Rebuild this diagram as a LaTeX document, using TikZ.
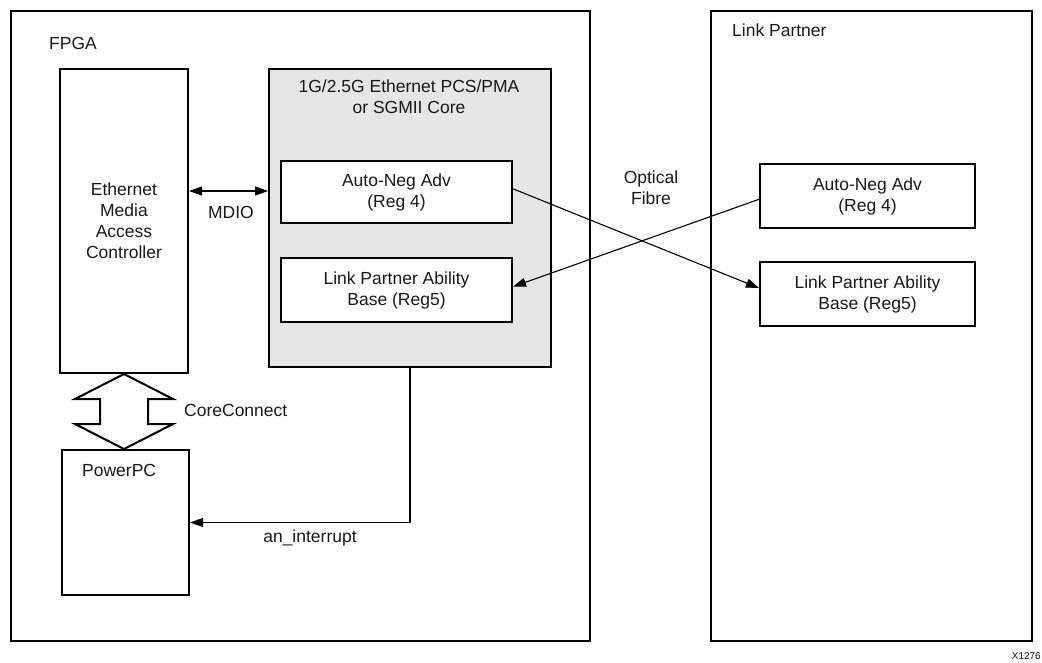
\documentclass[tikz,border=0pt]{standalone}
\usepackage{fontspec}
\setmainfont{Liberation Sans}
\usetikzlibrary{arrows.meta,calc}
\definecolor{coregray}{HTML}{E6E6E6}
\begin{document}
\begin{tikzpicture}[x=1pt,y=-1pt,
  every node/.style={font=\fontsize{17.5}{21}\selectfont, text=black!90},
  box/.style={draw, line width=2pt, rectangle, anchor=north west, align=center, inner sep=0pt},
  txt/.style={inner sep=0pt, align=center},
  thin/.style={line width=1.1pt},
  tip/.style={-{Triangle[length=13pt,width=9pt]}},
  bitip/.style={{Triangle[length=13pt,width=9pt]}-{Triangle[length=13pt,width=9pt]}}
]
\useasboundingbox (0,0) rectangle (1042,662);
% outer boxes
\node[box, minimum width=579, minimum height=630] (fpga) at (10,10) {};
\node[box, minimum width=321, minimum height=630] (lp) at (710,10) {};
\node[txt, anchor=west] (fpgalabel) at (49,43) {FPGA};
\node[txt, anchor=west] (lplabel) at (732,30) {Link Partner};
% MAC
\node[box, minimum width=128, minimum height=304] (mac) at (59,68) {Ethernet\\Media\\Access\\Controller};
% core
\node[box, fill=coregray, minimum width=282, minimum height=298] (core) at (268,68) {};
\node[txt] (coretitle) at (409,97) {1G/2.5G Ethernet PCS/PMA\\or SGMII Core};
\node[box, fill=white, minimum width=231, minimum height=62] (advL) at (280,160) {Auto-Neg Adv\\(Reg 4)};
\node[box, fill=white, minimum width=231, minimum height=64] (lpaL) at (280,257) {Link Partner Ability\\Base (Reg5)};
% link partner boxes
\node[box, minimum width=215, minimum height=64] (advR) at (759,163) {Auto-Neg Adv\\(Reg 4)};
\node[box, minimum width=215, minimum height=64] (lpaR) at (759,261) {Link Partner Ability\\Base (Reg5)};
% PowerPC
\node[box, minimum width=127, minimum height=145] (ppc) at (61,449) {};
\node[txt, anchor=west] (ppclabel) at (82,470) {PowerPC};
% labels
\node[txt] (mdiolabel) at (231,212) {MDIO};
\node[txt, anchor=west] (cclabel) at (184,410) {CoreConnect};
\node[txt] (irqlabel) at (310,538) {an\_interrupt};
\node[txt] (optlabel) at (651,188) {Optical\\Fibre};
\node[txt, anchor=east, font=\fontsize{10}{12}\selectfont] (xlabel) at (1041,656) {X1276};
% connectors
\coordinate (mdioy) at (0,191);
\draw[thin, bitip] (mac.east |- mdioy) -- (core.west |- mdioy);
\draw[thin, tip] (core.south) |- (ppc.east);
\draw[thin, tip] ($(advL.north east)!0.45!(advL.south east)$) -- ($(lpaR.north west)!0.41!(lpaR.south west)$);
\draw[thin, tip] ($(advR.north west)!0.55!(advR.south west)$) -- ($(lpaL.north east)!0.45!(lpaL.south east)$);
% CoreConnect double arrow
\draw[line width=2pt, line join=miter, fill=white]
  (mac.south) -- ++(49,25) -- ++(-25,0) -- ++(0,25) -- ++(25,0)
  -- (ppc.north -| mac.south) -- ++(-49,-25) -- ++(25,0) -- ++(0,-25) -- ++(-25,0) -- cycle;
\end{tikzpicture}
\end{document}
